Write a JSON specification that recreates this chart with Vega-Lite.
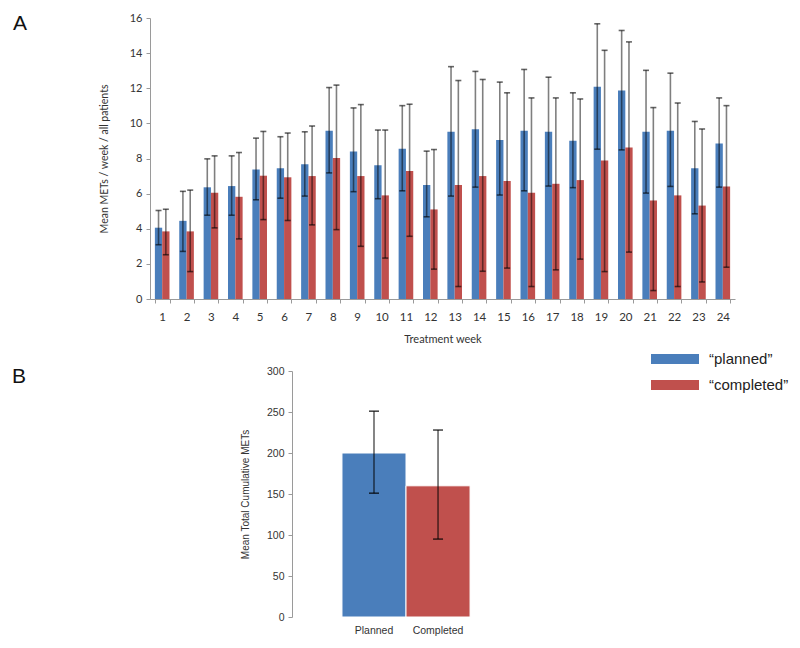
{
  "$schema": "https://vega.github.io/schema/vega-lite/v6.json",
  "background": "white",
  "padding": {"left": 12, "top": 12, "right": 5, "bottom": 5},
  "datasets": {
    "weekly": [
      {"week": 1, "series": "planned", "mean": 4.06, "lo": 3.09, "hi": 5.04},
      {"week": 1, "series": "completed", "mean": 3.85, "lo": 2.52, "hi": 5.11},
      {"week": 2, "series": "planned", "mean": 4.45, "lo": 2.71, "hi": 6.13},
      {"week": 2, "series": "completed", "mean": 3.85, "lo": 1.56, "hi": 6.2},
      {"week": 3, "series": "planned", "mean": 6.36, "lo": 4.77, "hi": 7.98},
      {"week": 3, "series": "completed", "mean": 6.05, "lo": 4.05, "hi": 8.15},
      {"week": 4, "series": "planned", "mean": 6.43, "lo": 4.77, "hi": 8.15},
      {"week": 4, "series": "completed", "mean": 5.82, "lo": 3.42, "hi": 8.34},
      {"week": 5, "series": "planned", "mean": 7.37, "lo": 5.65, "hi": 9.16},
      {"week": 5, "series": "completed", "mean": 7.02, "lo": 4.52, "hi": 9.54},
      {"week": 6, "series": "planned", "mean": 7.44, "lo": 5.74, "hi": 9.24},
      {"week": 6, "series": "completed", "mean": 6.93, "lo": 4.47, "hi": 9.45},
      {"week": 7, "series": "planned", "mean": 7.67, "lo": 5.86, "hi": 9.52},
      {"week": 7, "series": "completed", "mean": 7.0, "lo": 4.22, "hi": 9.85},
      {"week": 8, "series": "planned", "mean": 9.58, "lo": 7.18, "hi": 12.04},
      {"week": 8, "series": "completed", "mean": 8.03, "lo": 3.95, "hi": 12.18},
      {"week": 9, "series": "planned", "mean": 8.4, "lo": 6.11, "hi": 10.88},
      {"week": 9, "series": "completed", "mean": 7.0, "lo": 3.0, "hi": 11.07},
      {"week": 10, "series": "planned", "mean": 7.61, "lo": 5.71, "hi": 9.62},
      {"week": 10, "series": "completed", "mean": 5.9, "lo": 2.33, "hi": 9.62},
      {"week": 11, "series": "planned", "mean": 8.55, "lo": 6.16, "hi": 11.01},
      {"week": 11, "series": "completed", "mean": 7.29, "lo": 3.57, "hi": 11.09},
      {"week": 12, "series": "planned", "mean": 6.49, "lo": 4.68, "hi": 8.42},
      {"week": 12, "series": "completed", "mean": 5.1, "lo": 1.7, "hi": 8.51},
      {"week": 13, "series": "planned", "mean": 9.52, "lo": 5.86, "hi": 13.23},
      {"week": 13, "series": "completed", "mean": 6.49, "lo": 0.71, "hi": 12.44},
      {"week": 14, "series": "planned", "mean": 9.66, "lo": 6.37, "hi": 12.96},
      {"week": 14, "series": "completed", "mean": 7.0, "lo": 1.58, "hi": 12.5},
      {"week": 15, "series": "planned", "mean": 9.06, "lo": 5.92, "hi": 12.35},
      {"week": 15, "series": "completed", "mean": 6.72, "lo": 1.76, "hi": 11.74},
      {"week": 16, "series": "planned", "mean": 9.58, "lo": 6.16, "hi": 13.07},
      {"week": 16, "series": "completed", "mean": 6.05, "lo": 0.71, "hi": 11.45},
      {"week": 17, "series": "planned", "mean": 9.52, "lo": 6.43, "hi": 12.63},
      {"week": 17, "series": "completed", "mean": 6.56, "lo": 1.66, "hi": 11.45},
      {"week": 18, "series": "planned", "mean": 9.01, "lo": 6.34, "hi": 11.74},
      {"week": 18, "series": "completed", "mean": 6.77, "lo": 2.27, "hi": 11.39},
      {"week": 19, "series": "planned", "mean": 12.08, "lo": 8.53, "hi": 15.67},
      {"week": 19, "series": "completed", "mean": 7.88, "lo": 1.56, "hi": 14.16},
      {"week": 20, "series": "planned", "mean": 11.87, "lo": 8.49, "hi": 15.29},
      {"week": 20, "series": "completed", "mean": 8.63, "lo": 2.67, "hi": 14.64},
      {"week": 21, "series": "planned", "mean": 9.52, "lo": 6.03, "hi": 13.02},
      {"week": 21, "series": "completed", "mean": 5.61, "lo": 0.48, "hi": 10.9},
      {"week": 22, "series": "planned", "mean": 9.58, "lo": 6.41, "hi": 12.86},
      {"week": 22, "series": "completed", "mean": 5.9, "lo": 0.71, "hi": 11.16},
      {"week": 23, "series": "planned", "mean": 7.44, "lo": 4.85, "hi": 10.11},
      {"week": 23, "series": "completed", "mean": 5.32, "lo": 0.97, "hi": 9.68},
      {"week": 24, "series": "planned", "mean": 8.85, "lo": 6.37, "hi": 11.45},
      {"week": 24, "series": "completed", "mean": 6.41, "lo": 1.81, "hi": 11.01}
    ],
    "total": [
      {"label": "Planned", "series": "planned", "mean": 200, "lo": 151, "hi": 251},
      {"label": "Completed", "series": "completed", "mean": 160, "lo": 95, "hi": 228}
    ]
  },
  "config": {
    "view": {"stroke": null},
    "font": "Lato",
    "axis": {"grid": false, "domainColor": "#9a9a9a", "tickColor": "#9a9a9a", "labelColor": "#333333", "titleColor": "#333333", "titleFontWeight": "normal"},
    "title": {"fontWeight": "normal", "color": "#111111", "font": "Liberation Sans"},
    "legend": {"labelFont": "Liberation Sans"}
  },
  "vconcat": [
    {
      "width": 585,
      "height": 281,
      "title": {"text": "A", "anchor": "start", "frame": "group", "orient": "top", "dx": -137, "dy": 14, "offset": -29, "baseline": "bottom", "fontSize": 21},
      "data": {"name": "weekly"},
      "encoding": {
        "x": {"field": "week", "type": "ordinal", "scale": {"paddingInner": 0.4, "paddingOuter": 0.2},
              "axis": {"title": "Treatment week", "labelAngle": 0, "labelFontSize": 11.5, "titleFontSize": 11, "tickBand": "extent", "tickSize": 4, "labelPadding": 8, "titlePadding": 11}},
        "xOffset": {"field": "series", "type": "nominal", "scale": {"domain": ["planned", "completed"]}}
      },
      "layer": [
        {
          "mark": {"type": "bar"},
          "encoding": {
            "y": {"field": "mean", "type": "quantitative", "scale": {"domain": [0, 16]},
                  "axis": {"title": "Mean METs / week / all patients", "values": [0, 2, 4, 6, 8, 10, 12, 14, 16], "labelFontSize": 11, "titleFontSize": 10.5, "tickSize": 4, "labelPadding": 4, "titlePadding": 20}},
            "color": {"field": "series", "type": "nominal", "scale": {"domain": ["planned", "completed"], "range": ["#4a7ebb", "#c0504d"]},
                      "legend": {"title": null, "orient": "none", "legendX": 515, "legendY": 331, "labelExpr": "'\u201c' + datum.label + '\u201d'", "symbolType": "M-2.4,-0.5H2.4V0.5H-2.4Z", "symbolSize": 400, "symbolStrokeWidth": 0, "labelFontSize": 15, "labelColor": "#222222", "rowPadding": 8, "labelOffset": 24}}
          }
        },
        {
          "mark": {"type": "rule", "color": "#000000", "opacity": 0.5, "strokeWidth": 1.6},
          "encoding": {
            "y": {"field": "lo", "type": "quantitative", "axis": {"title": "Mean METs / week / all patients", "values": [0, 2, 4, 6, 8, 10, 12, 14, 16], "labelFontSize": 11, "titleFontSize": 10.5, "tickSize": 4, "labelPadding": 4, "titlePadding": 20}},
            "y2": {"field": "hi"}
          }
        },
        {
          "mark": {"type": "tick", "color": "#000000", "opacity": 0.6, "thickness": 1.6, "size": 6},
          "encoding": {"y": {"field": "hi", "type": "quantitative", "axis": {"title": "Mean METs / week / all patients", "values": [0, 2, 4, 6, 8, 10, 12, 14, 16], "labelFontSize": 11, "titleFontSize": 10.5, "tickSize": 4, "labelPadding": 4, "titlePadding": 20}}}
        },
        {
          "mark": {"type": "tick", "color": "#000000", "opacity": 0.6, "thickness": 1.6, "size": 6},
          "encoding": {"y": {"field": "lo", "type": "quantitative", "axis": {"title": "Mean METs / week / all patients", "values": [0, 2, 4, 6, 8, 10, 12, 14, 16], "labelFontSize": 11, "titleFontSize": 10.5, "tickSize": 4, "labelPadding": 4, "titlePadding": 20}}}
        }
      ]
    },
    {
      "width": 301,
      "height": 246,
      "title": {"text": "B", "anchor": "start", "frame": "group", "orient": "top", "dx": -280, "dy": 14, "offset": -28, "baseline": "bottom", "fontSize": 21},
      "data": {"name": "total"},
      "encoding": {
        "x": {"field": "label", "type": "nominal",
              "scale": {"domain": ["Planned", "Completed", " "], "paddingInner": 0, "paddingOuter": 0.85, "align": 0.459},
              "axis": {"title": null, "labelAngle": 0, "domain": false, "ticks": false, "labelFont": "Liberation Sans", "labelFontSize": 10.5, "labelPadding": 8}}
      },
      "layer": [
        {
          "mark": {"type": "bar", "stroke": "white", "strokeWidth": 1},
          "encoding": {
            "y": {"field": "mean", "type": "quantitative", "scale": {"domain": [0, 300]},
                  "axis": {"title": "Mean Total Cumulative METs", "values": [0, 50, 100, 150, 200, 250, 300], "labelFont": "Liberation Sans", "titleFont": "Liberation Sans", "labelFontSize": 10.5, "titleFontSize": 10, "tickSize": 4, "labelPadding": 4, "titlePadding": 16}},
            "color": {"field": "series", "type": "nominal"}
          }
        },
        {
          "mark": {"type": "rule", "color": "#000000", "opacity": 0.6, "strokeWidth": 1.6},
          "encoding": {
            "y": {"field": "lo", "type": "quantitative", "axis": {"title": "Mean Total Cumulative METs", "values": [0, 50, 100, 150, 200, 250, 300], "labelFont": "Liberation Sans", "titleFont": "Liberation Sans", "labelFontSize": 10.5, "titleFontSize": 10, "tickSize": 4, "labelPadding": 4, "titlePadding": 16}},
            "y2": {"field": "hi"}
          }
        },
        {
          "mark": {"type": "tick", "color": "#000000", "opacity": 0.7, "thickness": 1.6, "size": 10},
          "encoding": {"y": {"field": "hi", "type": "quantitative", "axis": {"title": "Mean Total Cumulative METs", "values": [0, 50, 100, 150, 200, 250, 300], "labelFont": "Liberation Sans", "titleFont": "Liberation Sans", "labelFontSize": 10.5, "titleFontSize": 10, "tickSize": 4, "labelPadding": 4, "titlePadding": 16}}}
        },
        {
          "mark": {"type": "tick", "color": "#000000", "opacity": 0.7, "thickness": 1.6, "size": 10},
          "encoding": {"y": {"field": "lo", "type": "quantitative", "axis": {"title": "Mean Total Cumulative METs", "values": [0, 50, 100, 150, 200, 250, 300], "labelFont": "Liberation Sans", "titleFont": "Liberation Sans", "labelFontSize": 10.5, "titleFontSize": 10, "tickSize": 4, "labelPadding": 4, "titlePadding": 16}}}
        }
      ]
    }
  ],
  "bounds": "flush",
  "center": true,
  "spacing": 72
}
